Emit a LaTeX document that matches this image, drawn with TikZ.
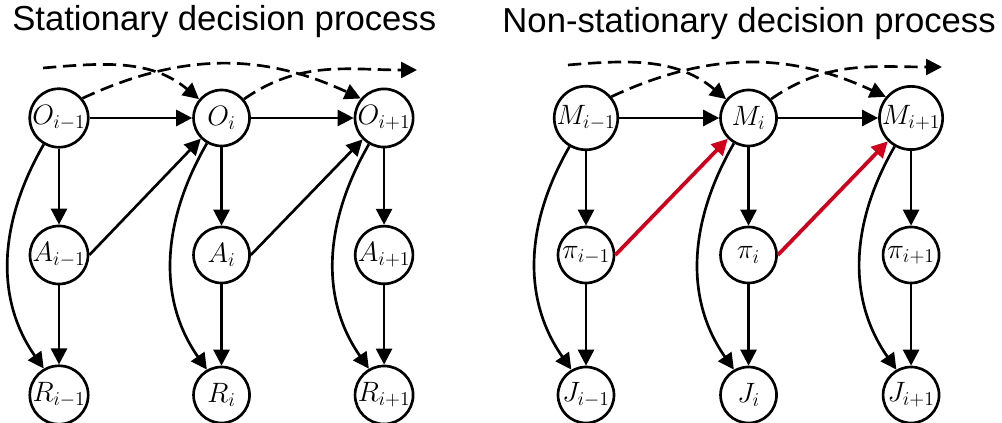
\RequirePackage{fix-cm}
\documentclass[tikz,border=0pt]{standalone}
\usepackage{fontspec}
\setsansfont{Liberation Sans}
\usepackage{xcolor}
\usepackage{tikz}
\usetikzlibrary{shapes, arrows.meta, positioning}

\definecolor{policyred}{RGB}{208,0,28}

\begin{document}
\begin{tikzpicture}[x=0.75pt, y=0.75pt, node distance=102.75pt and 121.9pt, on grid]
            \tikzstyle{var} = [draw, circle, line width=2pt, minimum size=42pt, inner sep=0pt, font=\fontsize{21}{25}\selectfont]
            \tikzstyle{edge} = [line width=2pt, -{Triangle[length=12pt, width=12pt]}]
            \tikzstyle{longedge} = [edge, dash pattern=on 10pt off 5pt]
            \tikzstyle{title} = [font=\sffamily\fontsize{26}{31}\selectfont, inner sep=0pt]

            \useasboundingbox (0,0) rectangle (1002,423);

            % titles
            \node[title, anchor=base west] (lefttitle) at (12,392) {Stationary decision process};
            \node[title, anchor=base east] (righttitle) at (996,390) {Non-stationary decision process};

            % stationary process
            \node[var] (om) at (59,305) {$O_{i-1}$};
            \node[var, right=of om] (oc) {$O_i$};
            \node[var, right=of oc] (op) {$O_{i+1}$};
            \node[var, below=of om] (am) {$A_{i-1}$};
            \node[var, below=of oc] (ac) {$A_i$};
            \node[var, below=of op] (ap) {$A_{i+1}$};
            \node[var, below=105pt of am] (rm) {$R_{i-1}$};
            \node[var, below=105pt of ac] (rc) {$R_i$};
            \node[var, below=105pt of ap] (rp) {$R_{i+1}$};
            \coordinate (ofrom) at (43,355);
            \coordinate (oto) at (417,353);

            \draw[edge] (om) -- (oc);
            \draw[edge] (oc) -- (op);
            \draw[edge] (om) -- (am);
            \draw[edge] (oc) -- (ac);
            \draw[edge] (op) -- (ap);
            \draw[edge] (am) -- (rm);
            \draw[edge] (ac) -- (rc);
            \draw[edge] (ap) -- (rp);
            \draw[edge] (am.east) -- (oc.south west);
            \draw[edge] (ac.east) -- (op.south west);
            \draw[edge] (om.240) to[out=240, in=125] (rm.120);
            \draw[edge] (oc.240) to[out=240, in=125] (rc.120);
            \draw[edge] (op.240) to[out=240, in=125] (rp.120);
            \draw[longedge] (ofrom) to[out=5, in=140] (oc.140);
            \draw[longedge] (om.40) to[out=25, in=155] (op.140);
            \draw[longedge] (oc.40) to[out=35, in=180] (oto);

            % non-stationary process
            \node[var] (mm) at (586,305) {$M_{i-1}$};
            \node[var, right=of mm] (mc) {$M_i$};
            \node[var, right=of mc] (mp) {$M_{i+1}$};
            \node[var, below=of mm] (pm) {$\pi_{i-1}$};
            \node[var, below=of mc] (pc) {$\pi_i$};
            \node[var, below=of mp] (pp) {$\pi_{i+1}$};
            \node[var, below=105pt of pm] (jm) {$J_{i-1}$};
            \node[var, below=105pt of pc] (jc) {$J_i$};
            \node[var, below=105pt of pp] (jp) {$J_{i+1}$};
            \coordinate (mfrom) at (568,358);
            \coordinate (mto) at (942,356);

            \draw[edge] (mm) -- (mc);
            \draw[edge] (mc) -- (mp);
            \draw[edge] (mm) -- (pm);
            \draw[edge] (mc) -- (pc);
            \draw[edge] (mp) -- (pp);
            \draw[edge] (pm) -- (jm);
            \draw[edge] (pc) -- (jc);
            \draw[edge] (pp) -- (jp);
            \draw[edge, policyred, line width=2.8pt] (pm.east) -- (mc.south west);
            \draw[edge, policyred, line width=2.8pt] (pc.east) -- (mp.south west);
            \draw[edge] (mm.240) to[out=240, in=125] (jm.120);
            \draw[edge] (mc.240) to[out=240, in=125] (jc.120);
            \draw[edge] (mp.240) to[out=240, in=125] (jp.120);
            \draw[longedge] (mfrom) to[out=5, in=140] (mc.140);
            \draw[longedge] (mm.40) to[out=25, in=155] (mp.140);
            \draw[longedge] (mc.40) to[out=35, in=180] (mto);
        \end{tikzpicture}
\end{document}
